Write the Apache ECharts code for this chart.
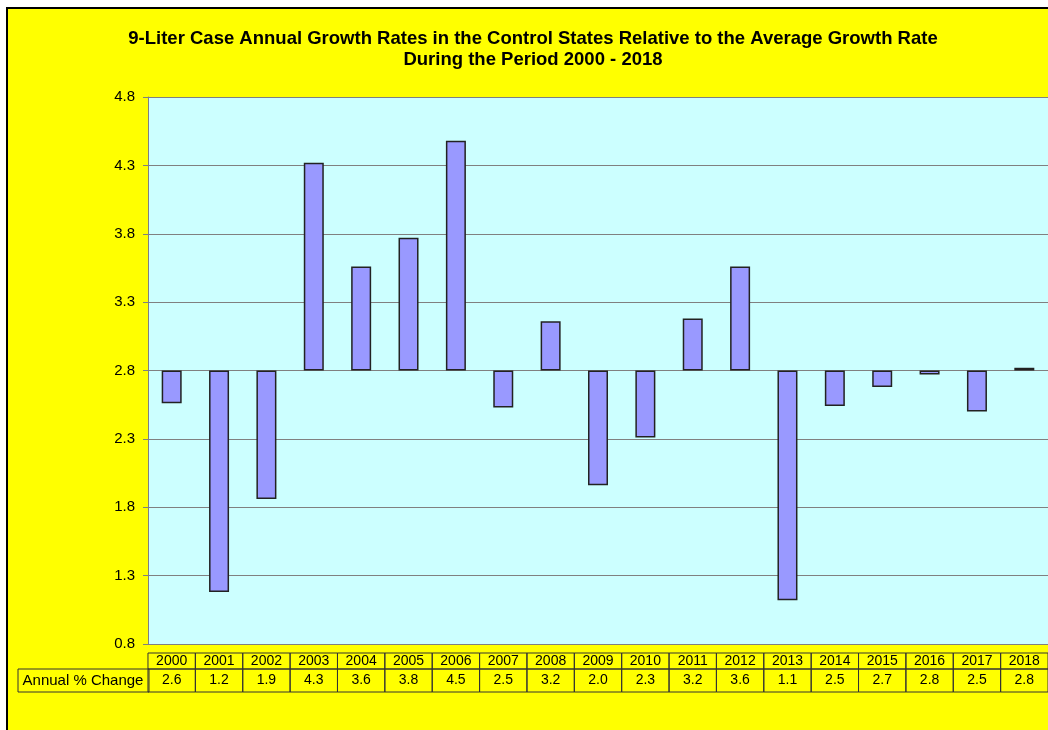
<!DOCTYPE html>
<html>
<head>
<meta charset="utf-8">
<script src="https://cdn.jsdelivr.net/npm/echarts@6/dist/echarts.min.js"></script>
<style>
  html, body { margin: 0; padding: 0; background: #fff; }
  #chart { width: 1048px; height: 730px; }
</style>
</head>
<body>
<div id="chart"></div>
<script>
// data
const years = ['2000', '2001', '2002', '2003', '2004', '2005', '2006', '2007', '2008', '2009',
  '2010', '2011', '2012', '2013', '2014', '2015', '2016', '2017', '2018']
const growth = [2.56, 1.18, 1.86, 4.32, 3.56, 3.77, 4.48, 2.53, 3.16, 1.96,
  2.31, 3.18, 3.56, 1.12, 2.54, 2.68, 2.77, 2.50, 2.82]
const average = 2.8
const rowLabel = 'Annual % Change'
const titleText = '9-Liter Case Annual Growth Rates in the Control States Relative to the Average Growth Rate\nDuring the Period 2000 - 2018'

// bars hang from the average line: invisible base + visible difference
const baseData = growth.map(v => Math.min(v, average))
const diffData = growth.map(v => Math.abs(v - average))

const font = 'Liberation Sans'
const chart = echarts.init(document.getElementById('chart'))

const option = {
  animation: false,
  backgroundColor: '#fff',
  title: {
    text: titleText,
    left: 528,
    top: 23,
    textAlign: 'center',
    textStyle: {
      fontFamily: font,
      fontSize: 18.5,
      fontWeight: 'bold',
      color: '#000',
      lineHeight: 21
    }
  },
  graphic: [
    {
      type: 'rect',
      z: -10,
      shape: { x: 7, y: 8, width: 1100, height: 800 },
      style: { fill: '#FFFF00', stroke: '#000', lineWidth: 2 }
    },
    {
      type: 'rect',
      z: 10,
      shape: { x: 18, y: 669, width: 131, height: 23 },
      style: { fill: 'none', stroke: '#333', lineWidth: 1 }
    },
    {
      type: 'text',
      z: 10,
      x: 83, y: 681,
      style: {
        text: rowLabel,
        fontFamily: font,
        fontSize: 15,
        fill: '#000',
        align: 'center',
        verticalAlign: 'middle'
      }
    }
  ],
  grid: {
    left: 148,
    right: 0,
    top: 97,
    bottom: 86,
    outerBoundsMode: 'none',
    containLabel: false,
    show: true,
    backgroundColor: '#CCFFFF',
    borderWidth: 0
  },
  xAxis: {
    type: 'category',
    data: years,
    axisLine: { show: true, lineStyle: { color: '#808080', width: 1 } },
    axisTick: { show: false },
    splitLine: { show: false },
    axisLabel: {
      interval: 0,
      margin: 9,
      formatter: (value, idx) => '{y|' + value + '}\n{v|' + growth[idx].toFixed(1) + '}',
      rich: {
        y: {
          width: 47.4, height: 16, lineHeight: 16, align: 'center',
          fontFamily: font, fontSize: 14, color: '#000',
          borderColor: '#333', borderWidth: 1
        },
        v: {
          width: 47.4, height: 23, lineHeight: 23, align: 'center',
          fontFamily: font, fontSize: 14, color: '#000',
          borderColor: '#333', borderWidth: 1
        }
      }
    }
  },
  yAxis: {
    type: 'value',
    min: 0.8,
    max: 4.8,
    interval: 0.5,
    axisLine: { show: true, lineStyle: { color: '#808080', width: 1 } },
    axisTick: { show: true, length: 5, lineStyle: { color: '#808080' } },
    splitLine: { show: true, lineStyle: { color: '#808080', width: 1 } },
    axisLabel: {
      margin: 13,
      fontFamily: font,
      fontSize: 15,
      color: '#000',
      formatter: v => v.toFixed(1)
    }
  },
  series: [
    {
      type: 'bar',
      stack: 'g',
      data: baseData,
      barWidth: 20,
      itemStyle: { color: 'transparent' },
      silent: true
    },
    {
      type: 'bar',
      stack: 'g',
      data: diffData,
      barWidth: 20,
      itemStyle: { color: '#9999FF', borderColor: '#222', borderWidth: 1.5 }
    }
  ]
}

chart.setOption(option)
</script>
</body>
</html>
